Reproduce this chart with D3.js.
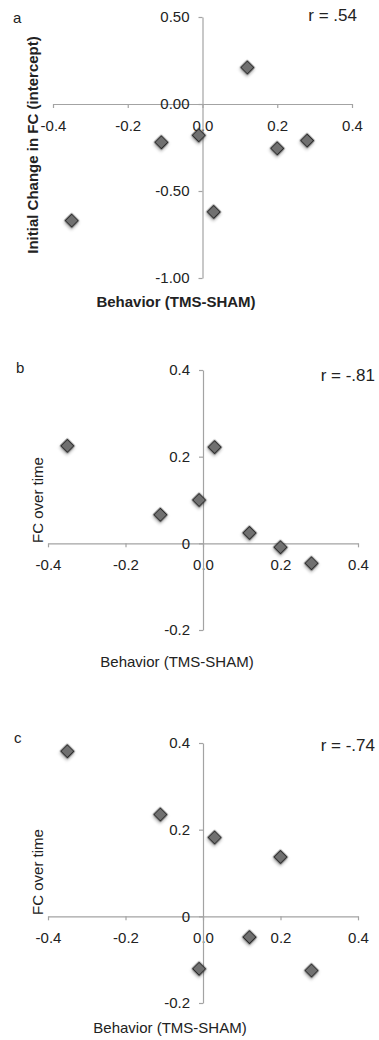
<!DOCTYPE html>
<html>
<head>
<meta charset="utf-8">
<script src="https://cdn.jsdelivr.net/npm/d3@7"></script>
<style>
  body { margin: 0; background: #fff; }
  svg { display: block; font-family: "Liberation Sans", Arial, Helvetica, sans-serif; }
</style>
</head>
<body>
<div id="chart"></div>
<script>
// behavior difference (TMS - SHAM), same subjects in every panel
const behavior = [-0.35, -0.11, -0.01, 0.03, 0.12, 0.20, 0.28];
// panel a: initial change in FC (intercept)
const interceptVals = [-0.67, -0.22, -0.18, -0.62, 0.21, -0.255, -0.21];
// panel b: FC over time
const slopeB = [0.225, 0.066, 0.10, 0.222, 0.024, -0.009, -0.046];
// panel c: FC over time
const slopeC = [0.381, 0.235, -0.121, 0.182, -0.048, 0.137, -0.125];

const xTicks = [-0.4, -0.2, 0.0, 0.2, 0.4];
const yTicksA = [0.5, 0, -0.5, -1.0];
const yTicksBC = [0.4, 0.2, 0, -0.2];
const rLabels = ['r = .54', 'r = -.81', 'r = -.74'];
const panelLetters = ['a', 'b', 'c'];

const width = 379, height = 1040;

// plain hyphen minus, like the original spreadsheet labels
const fmt1 = d => d.toFixed(1);
const fmt2 = d => d.toFixed(2);
const fmtBC = d => d === 0 ? '0' : d.toFixed(1);

const svg = d3.select('#chart').append('svg')
    .attr('width', width)
    .attr('height', height);

// soft shadow under the markers
const filter = svg.append('defs').append('filter')
    .attr('id', 'shadow')
    .attr('x', '-50%').attr('y', '-50%')
    .attr('width', '200%').attr('height', '200%');
filter.append('feDropShadow')
    .attr('dx', 1).attr('dy', 1.5)
    .attr('stdDeviation', 1.4)
    .attr('flood-color', '#000')
    .attr('flood-opacity', 0.35);

const panels = [
    { ys: interceptVals, yTicks: yTicksA, yFmt: fmt2, yDomain: [-1, 0.5],
      xRange: [53, 352], yRange: [278, 17], bold: true,
      yTitle: 'Initial Change in FC (intercept)', yTitleY: 145, yTitleX: 38,
      xTitleY: 307, xTitleX: 176, rX: 357, rY: 21, letterX: 13, letterY: 23 },
    { ys: slopeB, yTicks: yTicksBC, yFmt: fmtBC, yDomain: [-0.2, 0.4],
      xRange: [48, 358], yRange: [630, 370], bold: false,
      yTitle: 'FC over time', yTitleY: 500, yTitleX: 43,
      xTitleY: 667, xTitleX: 177, rX: 375, rY: 381, letterX: 16, letterY: 373 },
    { ys: slopeC, yTicks: yTicksBC, yFmt: fmtBC, yDomain: [-0.2, 0.4],
      xRange: [48, 358], yRange: [1003, 743], bold: false,
      yTitle: 'FC over time', yTitleY: 872, yTitleX: 43,
      xTitleY: 1033, xTitleX: 170, rX: 375, rY: 751, letterX: 14, letterY: 743 }
];

panels.forEach(function(p, i) {
    const x = d3.scaleLinear().domain([-0.4, 0.4]).range(p.xRange);
    const y = d3.scaleLinear().domain(p.yDomain).range(p.yRange);
    const g = svg.append('g');

    // x axis crossing at y = 0
    const xAxis = d3.axisBottom(x)
        .tickValues(xTicks)
        .tickFormat(fmt1)
        .tickSizeInner(4)
        .tickSizeOuter(0)
        .tickPadding(12);
    const gx = g.append('g')
        .attr('transform', 'translate(0,' + y(0) + ')')
        .call(xAxis);

    // y axis crossing at x = 0
    const yAxis = d3.axisLeft(y)
        .tickValues(p.yTicks)
        .tickFormat(p.yFmt)
        .tickSizeInner(4)
        .tickSizeOuter(0)
        .tickPadding(9);
    const gy = g.append('g')
        .attr('transform', 'translate(' + x(0) + ',0)')
        .call(yAxis);

    [gx, gy].forEach(function(a) {
        a.select('.domain').attr('stroke', '#a3a3a3').attr('stroke-width', 1.2);
        a.selectAll('.tick line').attr('stroke', '#a3a3a3').attr('stroke-width', 1.2);
        a.selectAll('.tick text')
            .attr('fill', '#222')
            .style('font-size', '15px')
            .style('font-family', '"Liberation Sans", Arial, sans-serif');
    });

    // markers
    const pts = behavior.map((b, k) => [b, p.ys[k]]);
    g.append('g').selectAll('path')
        .data(pts)
        .join('path')
        .attr('d', d3.symbol().type(d3.symbolSquare).size(88))
        .attr('transform', d => 'translate(' + x(d[0]) + ',' + y(d[1]) + ') rotate(45)')
        .attr('fill', '#6f6f6f')
        .attr('stroke', '#2b2b2b')
        .attr('stroke-width', 1.3)
        .attr('filter', 'url(#shadow)');

    // axis titles
    g.append('text')
        .attr('transform', 'translate(' + p.yTitleX + ',' + p.yTitleY + ') rotate(-90)')
        .attr('text-anchor', 'middle')
        .attr('fill', '#222')
        .style('font-size', '15px')
        .style('font-weight', p.bold ? 'bold' : 'normal')
        .text(p.yTitle);

    g.append('text')
        .attr('x', p.xTitleX)
        .attr('y', p.xTitleY)
        .attr('text-anchor', 'middle')
        .attr('fill', '#222')
        .style('font-size', '15px')
        .style('font-weight', p.bold ? 'bold' : 'normal')
        .text('Behavior (TMS-SHAM)');

    g.append('text')
        .attr('x', p.rX)
        .attr('y', p.rY)
        .attr('text-anchor', 'end')
        .attr('fill', '#222')
        .style('font-size', '17px')
        .text(rLabels[i]);

    g.append('text')
        .attr('x', p.letterX)
        .attr('y', p.letterY)
        .attr('fill', '#222')
        .style('font-size', '15px')
        .text(panelLetters[i]);
});
</script>
</body>
</html>
